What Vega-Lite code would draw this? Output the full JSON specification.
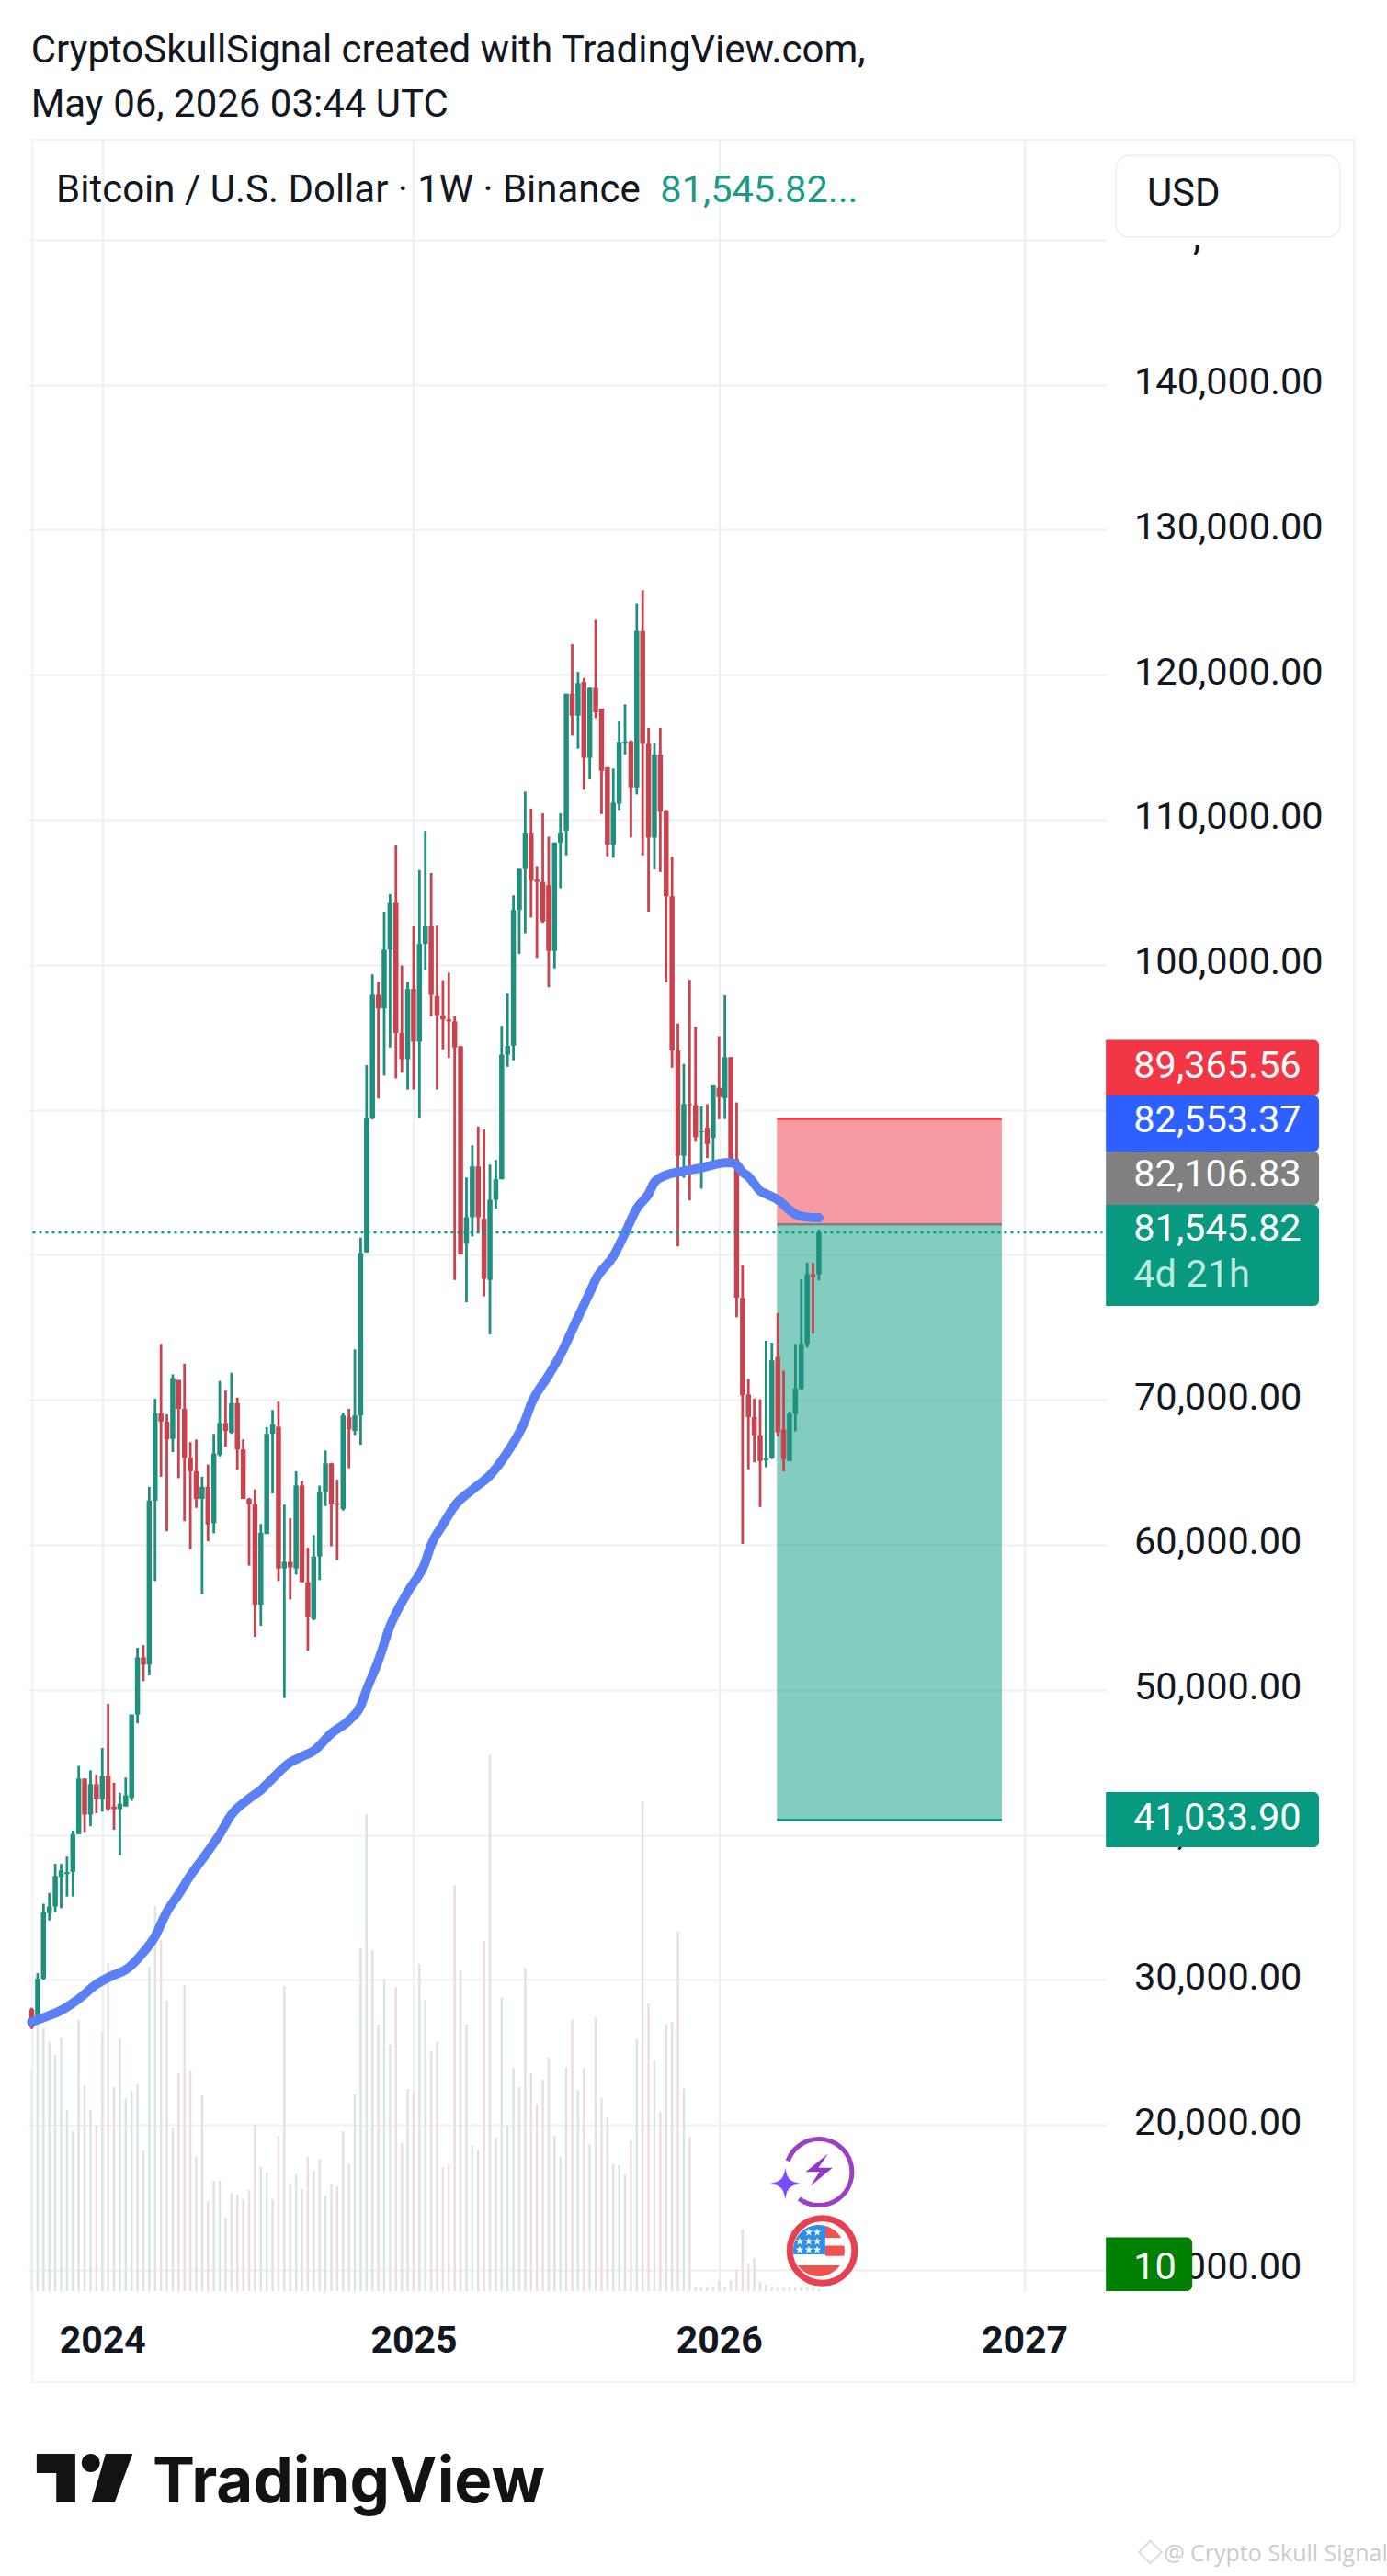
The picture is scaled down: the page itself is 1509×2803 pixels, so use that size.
{
  "$schema": "https://vega.github.io/schema/vega-lite/v6.json",
  "width": 1174.04,
  "height": 2341,
  "autosize": "none",
  "padding": {"left": 30.46, "top": 152, "right": 304.5, "bottom": 310},
  "background": "#ffffff",
  "config": {"view": {"stroke": null}, "font": "Roboto"},
  "datasets": {
    "candles": [
      {"date":"2023-10-09","open":27970,"high":28080,"low":26620,"close":26740,"volume":239},
      {"date":"2023-10-16","open":27200,"high":30460,"low":27000,"close":30080,"volume":290},
      {"date":"2023-10-23","open":30080,"high":35250,"low":30000,"close":34680,"volume":286},
      {"date":"2023-10-30","open":34600,"high":36000,"low":34100,"close":35060,"volume":271},
      {"date":"2023-11-06","open":35060,"high":38000,"low":34680,"close":37170,"volume":257},
      {"date":"2023-11-13","open":37100,"high":38000,"low":34950,"close":37550,"volume":276},
      {"date":"2023-11-20","open":37300,"high":38500,"low":35750,"close":37440,"volume":197},
      {"date":"2023-11-27","open":37440,"high":40300,"low":35750,"close":40050,"volume":174},
      {"date":"2023-12-04","open":40050,"high":44760,"low":40050,"close":43880,"volume":295},
      {"date":"2023-12-11","open":43880,"high":43880,"low":40200,"close":41400,"volume":224},
      {"date":"2023-12-18","open":41400,"high":44450,"low":40600,"close":43500,"volume":197},
      {"date":"2023-12-25","open":43500,"high":44150,"low":41500,"close":42460,"volume":180},
      {"date":"2024-01-01","open":42460,"high":46000,"low":41600,"close":44070,"volume":282},
      {"date":"2024-01-08","open":44070,"high":49050,"low":41660,"close":41770,"volume":357},
      {"date":"2024-01-15","open":41960,"high":43600,"low":40350,"close":41770,"volume":222},
      {"date":"2024-01-22","open":41770,"high":42900,"low":38600,"close":42150,"volume":275},
      {"date":"2024-01-29","open":41960,"high":43950,"low":41960,"close":42730,"volume":210},
      {"date":"2024-02-05","open":42540,"high":48300,"low":42350,"close":48300,"volume":218},
      {"date":"2024-02-12","open":48300,"high":52900,"low":47700,"close":52240,"volume":225},
      {"date":"2024-02-19","open":52240,"high":53080,"low":50600,"close":51740,"volume":153},
      {"date":"2024-02-26","open":51740,"high":64000,"low":51000,"close":63050,"volume":353},
      {"date":"2024-03-04","open":63050,"high":70070,"low":57500,"close":69070,"volume":419},
      {"date":"2024-03-11","open":69070,"high":73860,"low":64700,"close":68500,"volume":382},
      {"date":"2024-03-18","open":68500,"high":69000,"low":60940,"close":67270,"volume":316},
      {"date":"2024-03-25","open":67300,"high":71760,"low":66400,"close":71500,"volume":178},
      {"date":"2024-04-01","open":71370,"high":71370,"low":64600,"close":69380,"volume":237},
      {"date":"2024-04-08","open":69380,"high":72500,"low":61630,"close":66000,"volume":333},
      {"date":"2024-04-15","open":66000,"high":67080,"low":59700,"close":65080,"volume":240},
      {"date":"2024-04-22","open":65080,"high":67270,"low":62550,"close":63170,"volume":146},
      {"date":"2024-04-29","open":63170,"high":64700,"low":56600,"close":64000,"volume":213},
      {"date":"2024-05-06","open":64000,"high":65540,"low":60250,"close":61400,"volume":98},
      {"date":"2024-05-13","open":61500,"high":67650,"low":60800,"close":66300,"volume":120},
      {"date":"2024-05-20","open":66200,"high":71300,"low":66100,"close":68400,"volume":120},
      {"date":"2024-05-27","open":68400,"high":70640,"low":66770,"close":67850,"volume":80},
      {"date":"2024-06-03","open":67730,"high":71870,"low":67650,"close":69760,"volume":107},
      {"date":"2024-06-10","open":69760,"high":70150,"low":65160,"close":66580,"volume":105},
      {"date":"2024-06-17","open":66580,"high":67270,"low":63170,"close":63170,"volume":100},
      {"date":"2024-06-24","open":63170,"high":63240,"low":58570,"close":62800,"volume":110},
      {"date":"2024-07-01","open":62800,"high":63820,"low":53660,"close":55880,"volume":181},
      {"date":"2024-07-08","open":55880,"high":61440,"low":54420,"close":60830,"volume":135},
      {"date":"2024-07-15","open":60750,"high":68110,"low":60750,"close":67650,"volume":129},
      {"date":"2024-07-22","open":67650,"high":69300,"low":63550,"close":68300,"volume":100},
      {"date":"2024-07-29","open":68150,"high":69880,"low":57500,"close":58370,"volume":169},
      {"date":"2024-08-05","open":58370,"high":62780,"low":49440,"close":58830,"volume":332},
      {"date":"2024-08-12","open":58830,"high":61830,"low":56230,"close":58450,"volume":117},
      {"date":"2024-08-19","open":58370,"high":65080,"low":57950,"close":64090,"volume":127},
      {"date":"2024-08-26","open":64090,"high":64400,"low":57420,"close":57420,"volume":111},
      {"date":"2024-09-02","open":57420,"high":59800,"low":52700,"close":55000,"volume":146},
      {"date":"2024-09-09","open":54880,"high":60670,"low":54800,"close":59200,"volume":131},
      {"date":"2024-09-16","open":59200,"high":64090,"low":57570,"close":63630,"volume":144},
      {"date":"2024-09-23","open":63630,"high":66500,"low":62670,"close":65620,"volume":104},
      {"date":"2024-09-30","open":65620,"high":65660,"low":59900,"close":62780,"volume":117},
      {"date":"2024-10-07","open":62860,"high":64500,"low":58950,"close":62780,"volume":114},
      {"date":"2024-10-14","open":62480,"high":69100,"low":62360,"close":68920,"volume":174},
      {"date":"2024-10-21","open":68800,"high":69380,"low":65280,"close":67960,"volume":138},
      {"date":"2024-10-28","open":67850,"high":73480,"low":67580,"close":68920,"volume":214},
      {"date":"2024-11-04","open":68920,"high":81190,"low":66900,"close":80130,"volume":373},
      {"date":"2024-11-11","open":80170,"high":93080,"low":80170,"close":89450,"volume":519},
      {"date":"2024-11-18","open":89450,"high":99340,"low":89330,"close":97930,"volume":371},
      {"date":"2024-11-25","open":97930,"high":98820,"low":90780,"close":97000,"volume":290},
      {"date":"2024-12-02","open":97000,"high":103660,"low":92360,"close":101040,"volume":340},
      {"date":"2024-12-09","open":101040,"high":104870,"low":94300,"close":104270,"volume":268},
      {"date":"2024-12-16","open":104270,"high":108220,"low":92160,"close":95300,"volume":331},
      {"date":"2024-12-23","open":95300,"high":99950,"low":92560,"close":93490,"volume":161},
      {"date":"2024-12-30","open":93490,"high":98820,"low":91390,"close":98330,"volume":220},
      {"date":"2025-01-06","open":98330,"high":102650,"low":91390,"close":94700,"volume":216},
      {"date":"2025-01-13","open":94700,"high":106530,"low":89450,"close":101440,"volume":356},
      {"date":"2025-01-20","open":101440,"high":109230,"low":99620,"close":102650,"volume":317},
      {"date":"2025-01-27","open":102650,"high":106330,"low":96440,"close":97930,"volume":261},
      {"date":"2025-02-03","open":97850,"high":102690,"low":91390,"close":96520,"volume":271},
      {"date":"2025-02-10","open":96520,"high":98940,"low":94170,"close":96230,"volume":134},
      {"date":"2025-02-17","open":96230,"high":99460,"low":93570,"close":96100,"volume":139},
      {"date":"2025-02-24","open":96100,"high":96440,"low":78270,"close":94300,"volume":442},
      {"date":"2025-03-03","open":94380,"high":94420,"low":80040,"close":80040,"volume":349},
      {"date":"2025-03-10","open":80770,"high":85330,"low":76730,"close":82590,"volume":290},
      {"date":"2025-03-17","open":82590,"high":87550,"low":81260,"close":86100,"volume":158},
      {"date":"2025-03-24","open":86100,"high":88850,"low":81500,"close":82590,"volume":154},
      {"date":"2025-03-31","open":82500,"high":88640,"low":77140,"close":78350,"volume":381},
      {"date":"2025-04-07","open":78270,"high":86220,"low":74510,"close":83800,"volume":583},
      {"date":"2025-04-14","open":83800,"high":86540,"low":83190,"close":85210,"volume":167},
      {"date":"2025-04-21","open":85210,"high":95790,"low":85210,"close":93810,"volume":320},
      {"date":"2025-04-28","open":93810,"high":98010,"low":92960,"close":94420,"volume":180},
      {"date":"2025-05-05","open":94420,"high":104790,"low":93410,"close":103780,"volume":243},
      {"date":"2025-05-12","open":103780,"high":106610,"low":100750,"close":106610,"volume":222},
      {"date":"2025-05-19","open":106610,"high":111940,"low":102170,"close":109110,"volume":352},
      {"date":"2025-05-26","open":109110,"high":110770,"low":103260,"close":105800,"volume":237},
      {"date":"2025-06-02","open":105880,"high":106810,"low":100470,"close":105720,"volume":203},
      {"date":"2025-06-09","open":105720,"high":110440,"low":102890,"close":102980,"volume":230},
      {"date":"2025-06-16","open":105480,"high":108830,"low":98450,"close":100960,"volume":254},
      {"date":"2025-06-23","open":100960,"high":108430,"low":99750,"close":108430,"volume":169},
      {"date":"2025-06-30","open":108430,"high":110440,"low":105280,"close":109110,"volume":146},
      {"date":"2025-07-07","open":109260,"high":118700,"low":107540,"close":118700,"volume":243},
      {"date":"2025-07-14","open":118700,"high":122100,"low":115800,"close":117180,"volume":295},
      {"date":"2025-07-21","open":117180,"high":120200,"low":114900,"close":119420,"volume":219},
      {"date":"2025-07-28","open":119500,"high":119770,"low":112070,"close":114270,"volume":243},
      {"date":"2025-08-04","open":114270,"high":119100,"low":112780,"close":119100,"volume":160},
      {"date":"2025-08-11","open":119100,"high":123790,"low":117000,"close":117410,"volume":298},
      {"date":"2025-08-18","open":117670,"high":117670,"low":110390,"close":113370,"volume":210},
      {"date":"2025-08-25","open":113620,"high":113620,"low":107480,"close":108280,"volume":189},
      {"date":"2025-09-01","open":108280,"high":113530,"low":107380,"close":111170,"volume":138},
      {"date":"2025-09-08","open":111100,"high":116830,"low":110680,"close":115370,"volume":137},
      {"date":"2025-09-15","open":115300,"high":117960,"low":114500,"close":115400,"volume":127},
      {"date":"2025-09-22","open":115400,"high":115470,"low":108770,"close":112230,"volume":164},
      {"date":"2025-09-29","open":112230,"high":124920,"low":111750,"close":123000,"volume":274},
      {"date":"2025-10-06","open":123000,"high":125830,"low":107540,"close":115240,"volume":533},
      {"date":"2025-10-13","open":115240,"high":116340,"low":103660,"close":108770,"volume":313},
      {"date":"2025-10-20","open":108770,"high":115300,"low":106570,"close":114500,"volume":251},
      {"date":"2025-10-27","open":114500,"high":116340,"low":106400,"close":110550,"volume":195},
      {"date":"2025-11-03","open":110620,"high":110680,"low":98800,"close":104720,"volume":290},
      {"date":"2025-11-10","open":104720,"high":107440,"low":92900,"close":94100,"volume":293},
      {"date":"2025-11-17","open":94100,"high":95950,"low":80580,"close":86830,"volume":391},
      {"date":"2025-11-24","open":86830,"high":93160,"low":85310,"close":90390,"volume":220},
      {"date":"2025-12-01","open":90390,"high":98960,"low":83750,"close":90320,"volume":168},
      {"date":"2025-12-08","open":90320,"high":95730,"low":87800,"close":88120,"volume":5},
      {"date":"2025-12-15","open":88450,"high":90230,"low":84560,"close":88510,"volume":4},
      {"date":"2025-12-22","open":88770,"high":90390,"low":86670,"close":87640,"volume":4},
      {"date":"2025-12-29","open":88060,"high":91680,"low":86020,"close":91680,"volume":5},
      {"date":"2026-01-05","open":91520,"high":95080,"low":89350,"close":90870,"volume":11},
      {"date":"2026-01-12","open":90810,"high":97900,"low":89360,"close":93630,"volume":5},
      {"date":"2026-01-19","open":93630,"high":93630,"low":86180,"close":86600,"volume":12},
      {"date":"2026-01-26","open":86600,"high":90510,"low":75690,"close":77050,"volume":24},
      {"date":"2026-02-02","open":77030,"high":79290,"low":60060,"close":70310,"volume":67},
      {"date":"2026-02-09","open":70370,"high":71440,"low":65210,"close":68810,"volume":30},
      {"date":"2026-02-16","open":68810,"high":70080,"low":65690,"close":67560,"volume":36},
      {"date":"2026-02-23","open":67560,"high":70030,"low":62610,"close":65780,"volume":10},
      {"date":"2026-03-02","open":65840,"high":74080,"low":65350,"close":65980,"volume":7},
      {"date":"2026-03-09","open":65980,"high":73940,"low":65920,"close":72720,"volume":5},
      {"date":"2026-03-16","open":72950,"high":75980,"low":67480,"close":67760,"volume":4},
      {"date":"2026-03-23","open":67960,"high":72010,"low":65070,"close":65920,"volume":4},
      {"date":"2026-03-30","open":65780,"high":69180,"low":65780,"close":69040,"volume":5},
      {"date":"2026-04-06","open":69040,"high":73850,"low":67820,"close":70790,"volume":4},
      {"date":"2026-04-13","open":70740,"high":78330,"low":70740,"close":73850,"volume":4},
      {"date":"2026-04-20","open":73850,"high":79460,"low":73600,"close":78670,"volume":5},
      {"date":"2026-04-27","open":78670,"high":79460,"low":74560,"close":78470,"volume":4},
      {"date":"2026-05-04","open":78670,"high":81730,"low":78240,"close":81550,"volume":3}
    ],
    "average": [
      {"date":"2023-10-09","price":27100},{"date":"2023-10-23","price":27400},{"date":"2023-11-13","price":27900},
      {"date":"2023-12-04","price":28700},{"date":"2023-12-25","price":29700},{"date":"2024-01-15","price":30350},
      {"date":"2024-01-29","price":30700},{"date":"2024-02-19","price":31900},{"date":"2024-03-04","price":33000},
      {"date":"2024-03-18","price":34700},{"date":"2024-04-01","price":35900},{"date":"2024-04-15","price":37200},
      {"date":"2024-04-29","price":38300},{"date":"2024-05-20","price":40050},{"date":"2024-06-03","price":41400},
      {"date":"2024-06-24","price":42500},{"date":"2024-07-08","price":43100},{"date":"2024-07-22","price":43900},
      {"date":"2024-08-12","price":45000},{"date":"2024-08-26","price":45400},{"date":"2024-09-09","price":45800},
      {"date":"2024-09-30","price":47000},{"date":"2024-10-21","price":47900},{"date":"2024-11-04","price":48900},
      {"date":"2024-11-11","price":50000},{"date":"2024-11-25","price":52000},{"date":"2024-12-09","price":54400},
      {"date":"2024-12-30","price":56750},{"date":"2025-01-20","price":58800},{"date":"2025-01-27","price":60000},
      {"date":"2025-02-10","price":61400},{"date":"2025-02-24","price":62700},{"date":"2025-03-17","price":63800},
      {"date":"2025-04-07","price":64800},{"date":"2025-04-28","price":66400},{"date":"2025-05-19","price":68600},
      {"date":"2025-05-26","price":69700},{"date":"2025-06-16","price":71700},{"date":"2025-06-30","price":73100},
      {"date":"2025-07-21","price":75700},{"date":"2025-08-04","price":77400},{"date":"2025-08-11","price":78300},
      {"date":"2025-09-01","price":79900},{"date":"2025-09-15","price":81500},{"date":"2025-09-29","price":83200},
      {"date":"2025-10-13","price":84200},{"date":"2025-10-20","price":85000},{"date":"2025-11-03","price":85500},
      {"date":"2025-11-17","price":85700},{"date":"2025-12-01","price":85850},{"date":"2025-12-15","price":86000},
      {"date":"2025-12-29","price":86200},{"date":"2026-01-12","price":86350},{"date":"2026-01-19","price":86350},
      {"date":"2026-01-26","price":86200},{"date":"2026-02-02","price":85700},{"date":"2026-02-09","price":85400},
      {"date":"2026-02-16","price":84900},{"date":"2026-02-23","price":84400},{"date":"2026-03-02","price":84200},
      {"date":"2026-03-16","price":83800},{"date":"2026-03-30","price":83100},{"date":"2026-04-06","price":82800},
      {"date":"2026-04-20","price":82600},{"date":"2026-05-04","price":82553}
    ],
    "position": [
      {"date":"2026-03-15","date2":"2026-12-08","top":89365.56,"bottom":82106.83,"kind":"stop"},
      {"date":"2026-03-15","date2":"2026-12-08","top":82106.83,"bottom":41033.9,"kind":"target"}
    ],
    "positionEdges": [
      {"date":"2026-03-15","date2":"2026-12-08","price":89365.56,"kind":"stop"},
      {"date":"2026-03-15","date2":"2026-12-08","price":82106.83,"kind":"entry"},
      {"date":"2026-03-15","date2":"2026-12-08","price":41033.9,"kind":"target"}
    ],
    "tags": [
      {"date":"2027-04-11","date2":"2027-12-21","top":94823,"bottom":90989,"kind":"stop"},
      {"date":"2027-04-11","date2":"2027-12-21","top":90989,"bottom":87123,"kind":"average"},
      {"date":"2027-04-11","date2":"2027-12-21","top":87123,"bottom":83447,"kind":"entry"},
      {"date":"2027-04-11","date2":"2027-12-21","top":83447,"bottom":76477,"kind":"target"},
      {"date":"2027-04-11","date2":"2027-12-21","top":42953,"bottom":39151,"kind":"target"},
      {"date":"2027-04-11","date2":"2027-07-23","top":12250,"bottom":8542,"kind":"signal"}
    ],
    "labels": [
      {"date":"2023-10-08","price":162218,"label":"CryptoSkullSignal created with TradingView.com,","group":"ink"},
      {"date":"2023-10-08","price":158479,"label":"May 06, 2026 03:44 UTC","group":"ink"},
      {"date":"2023-11-07","price":152586,"label":"Bitcoin / U.S. Dollar · 1W · Binance","group":"ink"},
      {"date":"2027-05-30","price":152332,"label":"USD","group":"ink"},
      {"date":"2027-07-24","price":149290,"label":",","group":"ink"},
      {"date":"2025-10-27","price":152586,"label":"81,545.82...","group":"teal"},
      {"date":"2027-05-14","price":92212,"label":"89,365.56","group":"white"},
      {"date":"2027-05-14","price":88454,"label":"82,553.37","group":"white"},
      {"date":"2027-05-14","price":84715,"label":"82,106.83","group":"white"},
      {"date":"2027-05-14","price":80976,"label":"81,545.82","group":"white"},
      {"date":"2027-05-14","price":40355,"label":"41,033.90","group":"white"},
      {"date":"2027-05-14","price":9366,"label":"10","group":"white"},
      {"date":"2027-05-14","price":77807,"label":"4d 21h","group":"pale"}
    ],
    "stars": [
      {"date":"2026-04-22","price":12598},{"date":"2026-05-02","price":12598},
      {"date":"2026-04-11","price":11964},{"date":"2026-04-22","price":11964},{"date":"2026-05-02","price":11964},
      {"date":"2026-04-11","price":11394},{"date":"2026-04-22","price":11394},{"date":"2026-05-02","price":11394}
    ]
  },
  "encoding": {
    "x": {
      "field": "date",
      "type": "temporal",
      "scale": {
        "type": "utc",
        "domain": [
          {"year": 2023, "month": 10, "date": 10, "utc": true},
          {"year": 2027, "month": 4, "date": 7, "utc": true}
        ]
      },
      "axis": {
        "title": null,
        "orient": "bottom",
        "values": [
          {"year": 2024, "month": 1, "date": 1, "utc": true},
          {"year": 2025, "month": 1, "date": 6, "utc": true},
          {"year": 2026, "month": 1, "date": 5, "utc": true},
          {"year": 2027, "month": 1, "date": 4, "utc": true}
        ],
        "format": "%Y",
        "domain": false,
        "ticks": false,
        "tickSize": 0,
        "grid": true,
        "gridColor": "#eff0f3",
        "gridWidth": 2.5,
        "labelFont": "Roboto",
        "labelFontSize": 41,
        "labelFontWeight": "bold",
        "labelColor": "#131722",
        "labelBaseline": "alphabetic",
        "labelPadding": 66,
        "labelOverlap": false,
        "labelFlush": false
      }
    }
  },
  "resolve": {"scale": {"y": "independent"}},
  "layer": [
    {
      "data": {"name": "candles"},
      "mark": {"type": "bar", "size": 2.5},
      "encoding": {
        "y": {"field": "volume", "type": "quantitative", "scale": {"domain": [0, 2341], "nice": false}, "axis": null},
        "color": {"condition": {"test": "datum.close >= datum.open", "value": "#dbe6e3"}, "value": "#eadfe0"}
      }
    },
    {
      "encoding": {
        "y": {
          "field": "price",
          "type": "quantitative",
          "scale": {"domain": [8542, 156895], "nice": false, "zero": false},
          "axis": {
            "title": null,
            "orient": "right",
            "values": [10000, 20000, 30000, 40000, 50000, 60000, 70000, 80000, 90000, 100000, 110000, 120000, 130000, 140000, 150000],
            "labelExpr": "datum.value == 150000 ? '' : format(datum.value, ',.2f')",
            "domain": false,
            "ticks": false,
            "tickSize": 0,
            "grid": true,
            "gridColor": "#eff0f3",
            "gridWidth": 2,
            "labelFont": "Roboto",
            "labelFontSize": 41.5,
            "labelColor": "#131722",
            "labelAlign": "left",
            "labelBaseline": "alphabetic",
            "labelOffset": 10,
            "labelPadding": 29,
            "labelLimit": 400,
            "labelOverlap": false,
            "labelFlush": false,
            "labelBound": false
          }
        }
      },
      "layer": [
        {
          "data": {"values": [{"date": "2023-10-10", "date2": "2028-02-01", "top": 156895, "bottom": 2269}], "format": {"parse": {"date": "date", "date2": "date"}}},
          "mark": {"type": "rect", "filled": false, "stroke": "#f0f1f3", "strokeWidth": 2},
          "encoding": {"x2": {"field": "date2"}, "y": {"field": "top", "type": "quantitative"}, "y2": {"field": "bottom"}}
        },
        {
          "data": {"name": "position", "format": {"parse": {"date": "date", "date2": "date"}}},
          "mark": {"type": "rect", "opacity": 0.5},
          "encoding": {
            "x2": {"field": "date2"},
            "y": {"field": "top", "type": "quantitative"},
            "y2": {"field": "bottom"},
            "color": {
              "field": "kind",
              "type": "nominal",
              "legend": null,
              "scale": {
                "domain": ["stop", "average", "entry", "target", "signal"],
                "range": ["#f23645", "#2e5fff", "#808080", "#089981", "#008000"]
              }
            }
          }
        },
        {
          "data": {"name": "candles"},
          "mark": {"type": "rule", "strokeWidth": 2.8},
          "encoding": {
            "y": {"field": "low", "type": "quantitative"},
            "y2": {"field": "high"},
            "color": {"condition": {"test": "datum.close >= datum.open", "value": "#1f8f7e"}, "value": "#c9434f"}
          }
        },
        {
          "data": {"name": "candles"},
          "mark": {"type": "rule", "strokeWidth": 5.5},
          "encoding": {
            "y": {"field": "open", "type": "quantitative"},
            "y2": {"field": "close"},
            "color": {"condition": {"test": "datum.close >= datum.open", "value": "#1f8f7e"}, "value": "#c9434f"}
          }
        },
        {
          "data": {"name": "positionEdges", "format": {"parse": {"date": "date", "date2": "date"}}},
          "mark": {"type": "rule", "strokeWidth": 2.5},
          "encoding": {
            "x2": {"field": "date2"},
            "color": {"field": "kind", "type": "nominal", "legend": null}
          }
        },
        {
          "data": {"name": "average"},
          "mark": {"type": "line", "color": "#5b7ff5", "strokeWidth": 10, "strokeCap": "round", "strokeJoin": "round", "interpolate": "monotone"},
          "encoding": {}
        },
        {
          "data": {"values": [{"date": "2023-10-10", "date2": "2027-04-07", "price": 81545.82}], "format": {"parse": {"date": "date", "date2": "date"}}},
          "mark": {"type": "rule", "color": "#089981", "strokeWidth": 2.5, "strokeDash": [3, 4]},
          "encoding": {"x2": {"field": "date2"}}
        },
        {
          "data": {"name": "tags", "format": {"parse": {"date": "date", "date2": "date"}}},
          "mark": {"type": "rect", "cornerRadiusTopRight": 6, "cornerRadiusBottomRight": 6},
          "encoding": {
            "x2": {"field": "date2"},
            "y": {"field": "top", "type": "quantitative"},
            "y2": {"field": "bottom"},
            "color": {"field": "kind", "type": "nominal", "legend": null}
          }
        },
        {
          "data": {"values": [{"date": "2027-04-23", "date2": "2028-01-15", "top": 155800, "bottom": 150170}], "format": {"parse": {"date": "date", "date2": "date"}}},
          "mark": {"type": "rect", "fill": "#ffffff", "stroke": "#f0f1f3", "strokeWidth": 2, "cornerRadius": 14},
          "encoding": {"x2": {"field": "date2"}, "y": {"field": "top", "type": "quantitative"}, "y2": {"field": "bottom"}}
        },
        {
          "data": {"name": "labels"},
          "transform": [{"filter": "datum.group == 'ink'"}],
          "mark": {"type": "text", "font": "Roboto", "fontSize": 42, "align": "left", "baseline": "alphabetic", "color": "#131722"},
          "encoding": {"text": {"field": "label", "type": "nominal"}}
        },
        {
          "data": {"name": "labels"},
          "transform": [{"filter": "datum.group == 'teal'"}],
          "mark": {"type": "text", "font": "Roboto", "fontSize": 41.5, "align": "left", "baseline": "alphabetic", "color": "#1b9a87"},
          "encoding": {"text": {"field": "label", "type": "nominal"}}
        },
        {
          "data": {"name": "labels"},
          "transform": [{"filter": "datum.group == 'white'"}],
          "mark": {"type": "text", "font": "Roboto", "fontSize": 41.5, "align": "left", "baseline": "alphabetic", "color": "#ffffff"},
          "encoding": {"text": {"field": "label", "type": "nominal"}}
        },
        {
          "data": {"name": "labels"},
          "transform": [{"filter": "datum.group == 'pale'"}],
          "mark": {"type": "text", "font": "Roboto", "fontSize": 41.5, "align": "left", "baseline": "alphabetic", "color": "#bdeade"},
          "encoding": {"text": {"field": "label", "type": "nominal"}}
        },
        {
          "data": {"values": [{"date": "2024-03-01", "price": -6014, "label": "TradingView"}]},
          "mark": {"type": "text", "font": "Inter", "fontSize": 69, "fontWeight": 700, "align": "left", "baseline": "alphabetic", "color": "#131313"},
          "encoding": {"text": {"field": "label", "type": "nominal"}}
        },
        {
          "data": {"values": [{"date": "2027-06-19", "price": -10089, "label": "@ Crypto Skull Signal"}]},
          "mark": {"type": "text", "font": "Open Sans", "fontSize": 25, "align": "left", "baseline": "alphabetic", "color": "#cccccc"},
          "encoding": {"text": {"field": "label", "type": "nominal"}}
        },
        {
          "data": {"values": [{"date": "2023-12-11", "price": -4341}]},
          "mark": {"type": "point", "filled": true, "opacity": 1, "color": "#131313", "size": 10899, "shape": "M-1,-.504 L-.195,-.504 L-.195,.506 L-.59,.506 L-.59,-.1 L-1,-.1 Z M-.062,-.312 A.19,.19 0 1 1 .318,-.312 A.19,.19 0 1 1 -.062,-.312 Z M.437,-.504 L1,-.504 L.628,.506 L.146,.506 Z"},
          "encoding": {}
        },
        {
          "data": {"values": [{"date": "2027-06-03", "price": -9455}]},
          "mark": {"type": "point", "shape": "diamond", "size": 600, "opacity": 1, "filled": false, "stroke": "#dddddd", "strokeWidth": 2},
          "encoding": {}
        },
        {
          "data": {"values": [{"date": "2026-05-04", "price": 16743}]},
          "mark": {"type": "point", "filled": false, "opacity": 1, "stroke": "#9b3fc4", "strokeWidth": 5, "size": 5184, "shape": "M-.94,-.34 A1,1 0 1 1 -.6,.8"},
          "encoding": {}
        },
        {
          "data": {"values": [{"date": "2026-05-04", "price": 16907}]},
          "mark": {"type": "point", "filled": true, "opacity": 1, "color": "#9436c9", "size": 1296, "shape": "M.57,-.98 L-.8,.12 L.03,.12 L-.52,.98 L.83,-.12 L-.03,-.12 Z"},
          "encoding": {}
        },
        {
          "data": {"values": [{"date": "2026-03-25", "price": 15957}]},
          "mark": {"type": "point", "filled": true, "opacity": 1, "color": "#7a4dff", "size": 1225, "shape": "M0,-1 C.1,-.3 .3,-.1 1,0 C.3,.1 .1,.3 0,1 C-.1,.3 -.3,.1 -1,0 C-.3,-.1 -.1,-.3 0,-1 Z"},
          "encoding": {}
        },
        {
          "data": {"values": [{"date": "2026-05-08", "price": 11331}]},
          "mark": {"type": "point", "shape": "circle", "filled": true, "opacity": 1, "fill": "#ffffff", "stroke": "#e8404f", "strokeWidth": 7, "size": 5000},
          "encoding": {}
        },
        {
          "data": {"values": [{"date": "2026-05-04", "price": 11331}]},
          "mark": {"type": "point", "filled": true, "opacity": 1, "color": "#ef5350", "size": 3136, "shape": "M.25,-.968 A1,1 0 0 1 .866,-.5 L.25,-.5 Z M.25,-.2 L.98,-.2 A1,1 0 0 1 .978,.21 L.25,.21 Z M-.82,.57 L.82,.57 A1,1 0 0 1 -.82,.57 Z"},
          "encoding": {}
        },
        {
          "data": {"values": [{"date": "2026-05-04", "price": 11331}]},
          "mark": {"type": "point", "filled": true, "opacity": 1, "color": "#2f8fe6", "size": 3136, "shape": "M.25,-.968 A1,1 0 0 0 -.99,.14 L.25,.14 Z"},
          "encoding": {}
        },
        {
          "data": {"name": "stars"},
          "mark": {"type": "point", "filled": true, "opacity": 1, "color": "#ffffff", "size": 81, "shape": "M0,-1 L.22,-.31 L.95,-.31 L.36,.12 L.59,.81 L0,.38 L-.59,.81 L-.36,.12 L-.95,-.31 L-.22,-.31 Z"},
          "encoding": {}
        }
      ]
    }
  ]
}
